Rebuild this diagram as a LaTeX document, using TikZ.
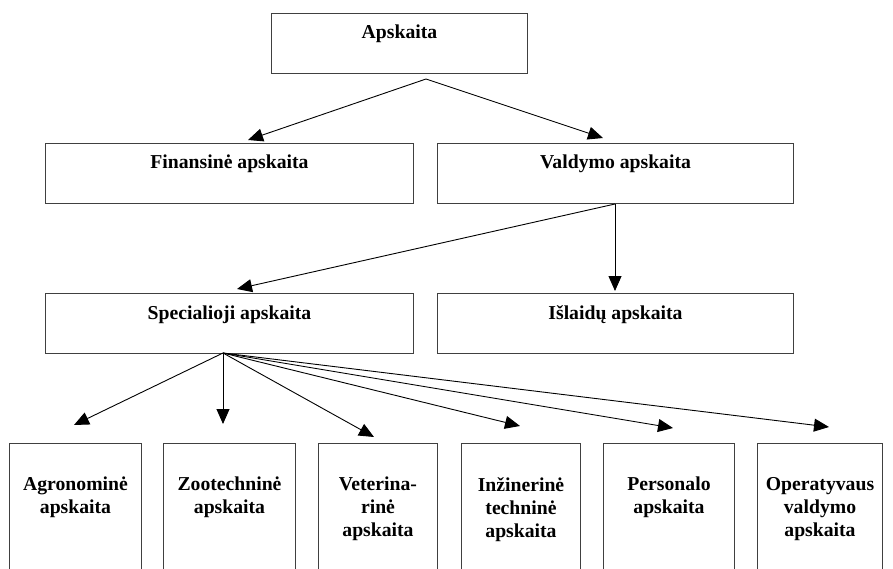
\documentclass[tikz,border=0pt]{standalone}
\usepackage{fontspec}
\setmainfont{Liberation Serif}
\usetikzlibrary{arrows.meta}
\begin{document}
\begin{tikzpicture}[x=1pt,y=-1pt,
  box/.style={draw=black!75, line width=1pt, inner sep=0pt, anchor=north west},
  lbl/.style={font=\fontsize{19.7}{23}\selectfont\bfseries, align=center, inner sep=0pt, anchor=base},
  lblm/.style={font=\fontsize{19.7}{23}\selectfont\bfseries, align=center, inner sep=0pt, anchor=north},
  arr/.style={-{Triangle[length=15pt,width=13pt]}, line width=0.9pt},
]
\useasboundingbox (0,0) rectangle (893,569);
\begin{scope}
\clip (0,0) rectangle (893,569);
% upper boxes
\node[box, minimum width=256pt, minimum height=60pt] (top) at (271,13) {};
\node[box, minimum width=368pt, minimum height=60pt] (fin) at (45,143) {};
\node[box, minimum width=356pt, minimum height=60pt] (val) at (437,143) {};
\node[box, minimum width=368pt, minimum height=60pt] (spec) at (45,293) {};
\node[box, minimum width=356pt, minimum height=60pt] (isl) at (437,293) {};
% bottom boxes (cut off at the lower edge)
\node[box, minimum width=132pt, minimum height=160pt] (b1) at (9,443) {};
\node[box, minimum width=132pt, minimum height=160pt] (b2) at (163,443) {};
\node[box, minimum width=119pt, minimum height=160pt] (b3) at (318,443) {};
\node[box, minimum width=119pt, minimum height=160pt] (b4) at (461,443) {};
\node[box, minimum width=131pt, minimum height=160pt] (b5) at (603,443) {};
\node[box, minimum width=125pt, minimum height=160pt] (b6) at (757,443) {};
\end{scope}
% labels
\node[lbl] (topt) at ([yshift=-26pt]top.north) {Apskaita};
\node[lbl] (fint) at ([yshift=-26pt]fin.north) {Finansinė apskaita};
\node[lbl] (valt) at ([yshift=-26pt]val.north) {Valdymo apskaita};
\node[lbl] (spect) at ([yshift=-26pt]spec.north) {Specialioji apskaita};
\node[lbl] (islt) at ([yshift=-26pt]isl.north) {Išlaidų apskaita};
\node[lblm] (b1t) at ([yshift=-34pt]b1.north) {Agronominė\\apskaita};
\node[lblm] (b2t) at ([yshift=-34pt]b2.north) {Zootechninė\\apskaita};
\node[lblm] (b3t) at ([yshift=-34pt]b3.north) {Veterina-\\rinė\\apskaita};
\node[lblm] (b4t) at ([yshift=-34pt]b4.north) {Inžinerinė\\techninė\\apskaita};
\node[lblm] (b5t) at ([yshift=-34pt]b5.north) {Personalo\\apskaita};
\node[lblm] (b6t) at ([yshift=-34pt]b6.north) {Operatyvaus\\valdymo\\apskaita};
% connector end points
\coordinate (o1) at (426,79);
\coordinate (t1) at (248,140);
\coordinate (t2) at (603,138);
\coordinate (o2) at (615,204);
\coordinate (t3) at (237,289);
\coordinate (t4) at (615,291);
\coordinate (o3) at (223,353);
\coordinate (u1) at (74,425);
\coordinate (u2) at (223,424);
\coordinate (u3) at (374,437);
\coordinate (u4) at (520,426);
\coordinate (u5) at (673,428);
\coordinate (u6) at (829,427);
% connectors
\draw[arr] (o1) -- (t1);
\draw[arr] (o1) -- (t2);
\draw[arr] (o2) -- (t3);
\draw[arr] (o2) -- (t4);
\foreach \u in {u1,u2,u3,u4,u5,u6} \draw[arr] (o3) -- (\u);
\end{tikzpicture}
\end{document}
